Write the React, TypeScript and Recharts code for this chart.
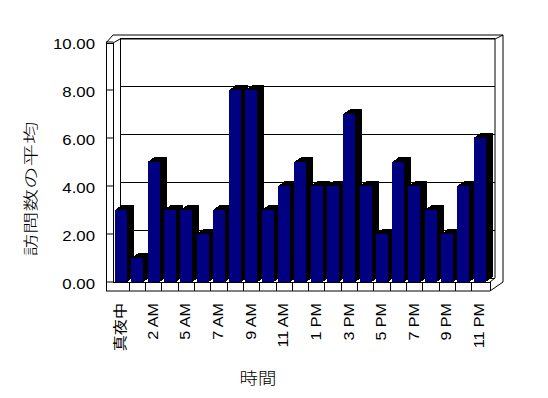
import React from "react";
import { Bar, BarChart, CartesianGrid, XAxis, YAxis } from "recharts";

// average visits per hour of day (one hour missing in the source data)
const hours = [
  "真夜中", "1 AM", "2 AM", "3 AM", "5 AM", "6 AM", "7 AM", "8 AM", "9 AM", "10 AM", "11 AM", "12 PM",
  "1 PM", "2 PM", "3 PM", "4 PM", "5 PM", "6 PM", "7 PM", "8 PM", "9 PM", "10 PM", "11 PM"
];
const avgVisits = [3, 1, 5, 3, 3, 2, 3, 8, 8, 3, 4, 5, 4, 4, 7, 4, 2, 5, 4, 3, 2, 4, 6];
const valueTicks = [0, 2, 4, 6, 8, 10];

const yTitle = "訪問数の平均";
const xTitle = "時間";

const data = hours.map((hour, i) => ({ hour, visits: avgVisits[i] }));

// chart box
const W = 548;
const H = 398;
const PL = 113;
const PR = 488;
const PT = 42;
const PB = 282;
// depth of the 3d bars and the back wall
const BD = 7;
const BE = 5;
const WD = 7;
const WE = 4;

const latin = "'Liberation Sans', Arial, 'Noto Sans CJK JP', sans-serif";
const cjk = "'Noto Sans CJK JP', sans-serif";

const Bar3D = (props: any) => {
  const { x, y, width, height } = props;
  if (!height) return null;
  const r = x + width;
  const b = y + height;
  return (
    <g shapeRendering="crispEdges">
      <polygon points={`${r},${y} ${r + BD},${y - BE} ${r + BD},${b - BE} ${r},${b}`} fill="#000" />
      <polygon points={`${x},${y} ${x + BD},${y - BE} ${r + BD},${y - BE} ${r},${y}`} fill="#000" />
      <rect x={x} y={y} width={width} height={height} fill="#000080" />
    </g>
  );
};

const XTick = (props: any) => {
  const { x, payload } = props;
  return (
    <text
      transform={`translate(${x - 1},${PB + 21}) rotate(-90) scale(1.15,1)`}
      textAnchor="end"
      dominantBaseline="central"
      fontSize={14}
      fontFamily={latin}
      fill="#000"
    >
      {payload.value}
    </text>
  );
};

const YTick = (props: any) => {
  const { y, payload } = props;
  return (
    <text
      transform={`translate(95,${y + 2}) scale(1.2,1)`}
      textAnchor="end"
      dominantBaseline="central"
      fontSize={14}
      fontFamily={latin}
      fill="#000"
    >
      {Number(payload.value).toFixed(2)}
    </text>
  );
};

const BackLine = (p: any) => (
  <line
    key={p.key ?? `${p.y1}`}
    x1={p.x1 + WD}
    x2={p.x2 + WD}
    y1={p.y1 - WE}
    y2={p.y2 - WE}
    stroke="#000"
    strokeWidth={1}
    shapeRendering="crispEdges"
  />
);

// walls and floor, drawn behind the chart
const Frame = () => {
  const band = (PR - PL) / hours.length;
  const dividers = hours.slice(1).map((_, i) => PL + (i + 1) * band);
  const ox = PL - 7;
  const fy = PB + 9;
  const bx0 = PL + WD;
  const bx1 = PR + WD;
  const topIn = PT - 3;
  const topOut = PT - 7;
  const right = bx1 + 8;
  return (
    <svg width={W} height={H} style={{ position: "absolute", left: 0, top: 0 }}>
      <g stroke="#000" strokeWidth={1} fill="none">
        <path d={`M${ox},${fy} V${PT + 1} H${PL} V${PB}`} shapeRendering="crispEdges" />
        <path d={`M${ox},${PT + 1} L${PL},${topOut} H${right} V${PB} L${PR + 2},${fy} H${ox}`} />
        <path d={`M${PL},${PT + 1} L${bx0},${topIn} H${bx1} L${right},${topOut}`} />
        <path d={`M${bx0},${topIn} V${PB - WE}`} shapeRendering="crispEdges" />
        <path d={`M${bx1},${topIn} V${PB - WE} L${PR + 2},${PB}`} />
        <path d={`M${PL},${PB} H${PR + 2} V${fy}`} shapeRendering="crispEdges" />
        {dividers.map((x) => (
          <line key={x} x1={x} x2={x} y1={PB} y2={fy} shapeRendering="crispEdges" />
        ))}
      </g>
      <text
        transform={`translate(30,189) rotate(-90) scale(1.5,1)`}
        textAnchor="middle"
        dominantBaseline="central"
        fontSize={15}
        fontWeight={300}
        fontFamily={cjk}
        fill="#000"
      >
        {yTitle}
      </text>
      <text
        transform={`translate(258,377) scale(1.15,1)`}
        textAnchor="middle"
        dominantBaseline="central"
        fontSize={16}
        fontWeight={300}
        fontFamily={cjk}
        fill="#000"
      >
        {xTitle}
      </text>
    </svg>
  );
};

export default function App() {
  return (
    <div style={{ position: "absolute", left: 0, top: 0, width: W, height: H, background: "#fff" }}>
      <Frame />
      <div style={{ position: "absolute", left: 0, top: 0 }}>
        <BarChart
          width={W}
          height={H}
          data={data}
          margin={{ top: PT, right: W - PR, bottom: 56, left: 0 }}
          barCategoryGap={2}
        >
          <CartesianGrid vertical={false} horizontal={BackLine} />
          <XAxis
            dataKey="hour"
            interval={1}
            height={60}
            tickLine={false}
            axisLine={false}
            tick={<XTick />}
          />
          <YAxis
            domain={[0, 10]}
            ticks={valueTicks}
            width={PL}
            axisLine={false}
            tickSize={7}
            tickMargin={11}
            tickLine={{ stroke: "#000" }}
            tick={<YTick />}
          />
          <Bar dataKey="visits" shape={<Bar3D />} isAnimationActive={false} />
        </BarChart>
      </div>
    </div>
  );
}
